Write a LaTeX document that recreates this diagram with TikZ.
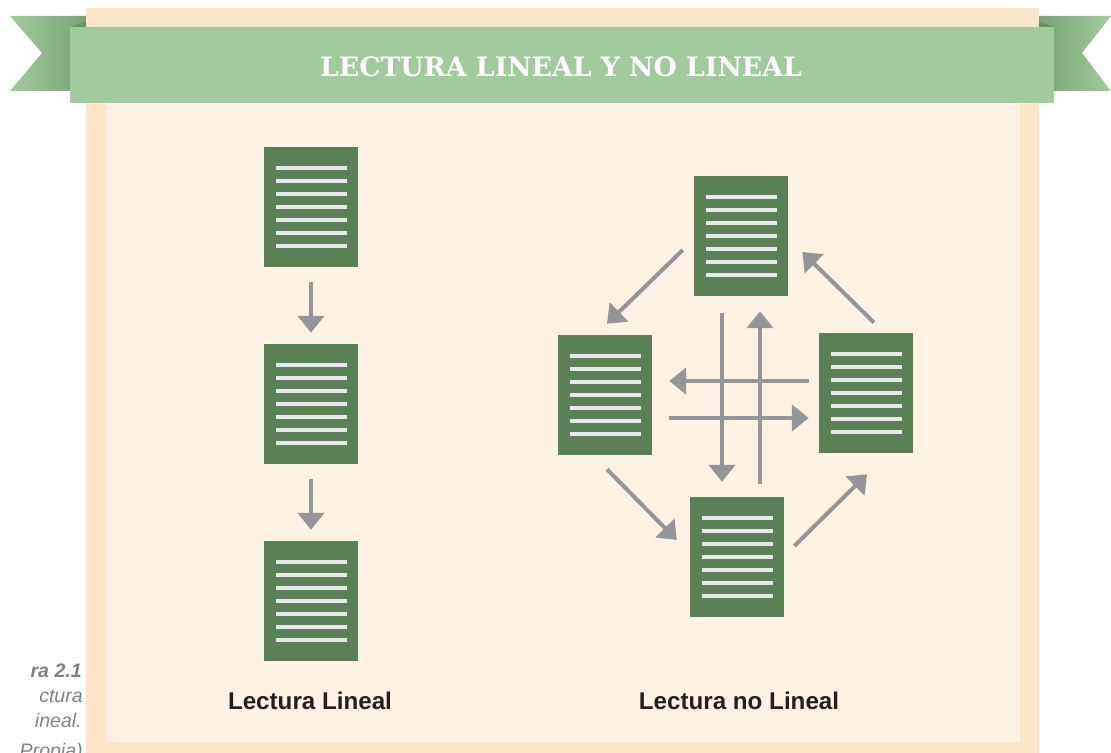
\documentclass[tikz,border=0pt]{standalone}
\usepackage{fontspec}
\setmainfont{Liberation Sans}
\newfontfamily\bannerfont{DejaVu Serif Bold}
\usetikzlibrary{arrows.meta,calc}

\definecolor{framepeach}{RGB}{253,229,200}
\definecolor{panelcream}{RGB}{253,242,227}
\definecolor{bannergreen}{RGB}{162,203,157}
\definecolor{taildark}{RGB}{122,163,117}
\definecolor{folddark}{RGB}{106,143,101}
\definecolor{docgreen}{RGB}{90,129,86}
\definecolor{docline}{RGB}{230,231,232}
\definecolor{arrowgray}{RGB}{147,149,152}
\definecolor{captiongray}{RGB}{128,130,133}
\definecolor{labeltext}{RGB}{35,31,32}

\begin{document}
\begin{tikzpicture}[x=0.025cm, y=-0.025cm,
  doc/.style={fill=docgreen, minimum width=2.35cm, minimum height=3cm, inner sep=0pt,
    path picture={
      \foreach \k in {-3,...,3}
        \fill[docline] ($(path picture bounding box.center)+(-35.5,\k*13-2)$) rectangle ++(71,4);
    }},
  flow/.style={draw=arrowgray, line width=0.1cm, -{Triangle[length=0.42cm,width=0.65cm]}},
  doclabel/.style={font=\bfseries\fontsize{17.2}{20}\selectfont, text=labeltext},
  sidenote/.style={anchor=base east, inner sep=0pt, text=captiongray, font=\itshape\fontsize{13.9}{16}\selectfont}
]
\useasboundingbox (0,0) rectangle (1111,753);

% ribbon tails and frame
\shade[left color=bannergreen, right color=taildark] (10,16) -- (86,16) -- (86,91) -- (10,91) -- (42,53) -- cycle;
\shade[left color=taildark, right color=bannergreen] (1039,16) -- (1111,16) -- (1082,53) -- (1111,91) -- (1039,91) -- cycle;
\fill[framepeach] (86,8) rectangle (1039,753);
\fill[panelcream] (107,100) rectangle (1020,742);
\fill[bannergreen] (70,27) rectangle (1054,103);
\fill[folddark] (70,27) -- (86,22) -- (86,27) -- cycle;
\fill[folddark] (1054,27) -- (1039,22) -- (1039,27) -- cycle;
\node[text=white, font=\bannerfont\fontsize{19}{22}\selectfont] (title) at (561,67) {LECTURA LINEAL Y NO LINEAL};

% lectura lineal
\node[doc] (l1) at (311,207) {};
\node[doc] (l2) at (311,404) {};
\node[doc] (l3) at (311,601) {};

\draw[flow, shorten <=0.375cm, shorten >=0.275cm] (l1) -- (l2);
\draw[flow, shorten <=0.375cm, shorten >=0.275cm] (l2) -- (l3);

% lectura no lineal
\node[doc] (top) at (741,236) {};
\node[doc] (lf) at (605,395) {};
\node[doc] (rt) at (866,393) {};
\node[doc] (bot) at (737,557) {};

\draw[flow] ($(top.west)+(-11,14)$) -- ($(lf.north)+(2,-11)$);
\draw[flow] ($(rt.north)+(8,-10)$) -- ($(top.east)+(14,16)$);
\draw[flow] ($(lf.south)+(2,14)$) -- ($(bot.west)+(-13,-17)$);
\draw[flow] ($(bot.east)+(10,-11)$) -- ($(rt.south)+(1,21)$);

\draw[flow, shorten <=0.425cm, shorten >=0.375cm] ([xshift=-0.475cm]top.south) -- ([xshift=-0.475cm]top.south |- bot.north);
\draw[flow, shorten <=0.325cm, shorten >=0.375cm] ([xshift=0.475cm]top.south |- bot.north) -- ([xshift=0.475cm]top.south);
\draw[flow, shorten <=0.25cm, shorten >=0.425cm] ([yshift=0.3cm]rt.west) -- ([yshift=0.3cm]rt.west -| lf.east);
\draw[flow, shorten <=0.425cm, shorten >=0.25cm] ([yshift=-0.625cm]rt.west -| lf.east) -- ([yshift=-0.625cm]rt.west);

\node[doclabel] (linealtxt) at (310,701) {Lectura Lineal};
\node[doclabel] (nolinealtxt) at (739,701) {Lectura no Lineal};

% figure note, cut at the page edge
\node[sidenote, font=\bfseries\itshape\fontsize{13.9}{16}\selectfont] (fignum) at (82,677) {ra 2.1};
\node[sidenote] (note1) at (83,702) {ctura};
\node[sidenote] (note2) at (82,727) {ineal.};
\node[sidenote] (note3) at (83,757) {Propia)};
\end{tikzpicture}
\end{document}
